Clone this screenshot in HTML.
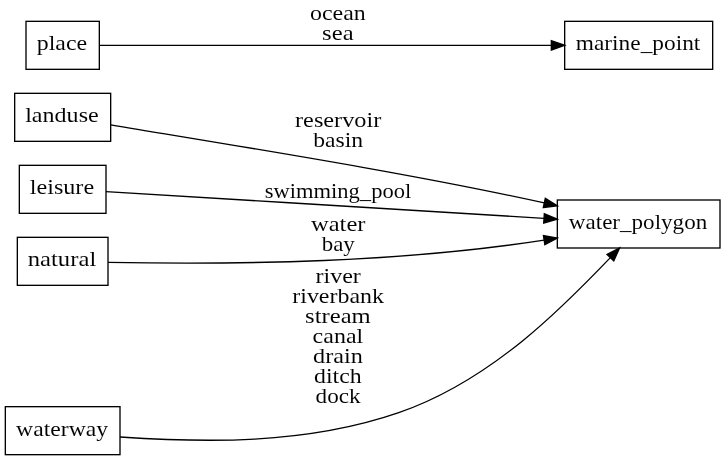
<!DOCTYPE html>
<html><head><meta charset="utf-8"><title>diagram</title><style>html,body{margin:0;padding:0;background:#fff;width:725px;height:460px;overflow:hidden}svg{display:block;will-change:transform}text{font-family:"Liberation Serif", serif;font-size:20.50px;fill:#000;stroke:#fff;stroke-width:0.05px;text-anchor:start}</style></head><body>
<svg width="725" height="460" viewBox="0 0 725 460">
<rect x="0" y="0" width="725" height="460" fill="#fff"/>
<g fill="none" stroke="#000" stroke-width="1.333">
<rect x="26" y="21.33" width="73.33" height="48"/>
<rect x="564.67" y="21.33" width="148" height="48"/>
<rect x="14.67" y="93.33" width="96" height="48"/>
<rect x="557.33" y="200" width="162.67" height="48"/>
<rect x="19.33" y="165.33" width="86.67" height="48"/>
<rect x="17.33" y="237.33" width="90.67" height="48"/>
<rect x="5.33" y="406.67" width="114.67" height="48"/>
</g>
<g fill="none" stroke="#000" stroke-width="1.333">
<path d="M99.33,45.33 L551.34,45.33"/>
<path d="M110.67,124.8 C260.24,149.79 411.95,173.7 544.31,202.93"/>
<path d="M106,191.67 C247.88,200.27 413.98,210.24 544.03,218.37"/>
<path d="M108,262.4 C246.59,264.76 400.21,262.33 544.16,240.13"/>
<path d="M120,437.04 C201.81,442.43 304.25,445.29 398.75,412.67 C492.84,380.19 565.76,304.15 610.37,257.62"/>
</g>
<g fill="#000" stroke="#000" stroke-width="1.333">
<polygon points="551.34,50 564.67,45.33 551.34,40.66"/>
<polygon points="543.31,207.48 557.33,205.8 545.32,198.37"/>
<polygon points="543.73,223.03 557.33,219.2 544.32,213.71"/>
<polygon points="544.87,244.74 557.33,238.1 543.44,235.52"/>
<polygon points="613.74,260.85 619.6,248 607.01,254.39"/>
</g>
<text x="310.04" y="20.27" textLength="55.71" lengthAdjust="spacingAndGlyphs">ocean</text>
<text x="322.13" y="40.27" textLength="31.53" lengthAdjust="spacingAndGlyphs">sea</text>
<text x="295.06" y="126.5" textLength="86.22" lengthAdjust="spacingAndGlyphs">reservoir</text>
<text x="313.18" y="146.5" textLength="49.95" lengthAdjust="spacingAndGlyphs">basin</text>
<text x="264.8" y="197.8" textLength="146.37" lengthAdjust="spacingAndGlyphs">swimming_pool</text>
<text x="310.96" y="230.5" textLength="54.52" lengthAdjust="spacingAndGlyphs">water</text>
<text x="321.7" y="250.5" textLength="33.12" lengthAdjust="spacingAndGlyphs">bay</text>
<text x="315.46" y="282.6" textLength="45.43" lengthAdjust="spacingAndGlyphs">river</text>
<text x="292.25" y="302.6" textLength="91.75" lengthAdjust="spacingAndGlyphs">riverbank</text>
<text x="305.07" y="322.6" textLength="65.72" lengthAdjust="spacingAndGlyphs">stream</text>
<text x="312.63" y="342.6" textLength="50.61" lengthAdjust="spacingAndGlyphs">canal</text>
<text x="313.03" y="362.6" textLength="49.79" lengthAdjust="spacingAndGlyphs">drain</text>
<text x="314.09" y="382.6" textLength="47.62" lengthAdjust="spacingAndGlyphs">ditch</text>
<text x="315.59" y="402.6" textLength="44.99" lengthAdjust="spacingAndGlyphs">dock</text>
<text x="36.84" y="50.26" textLength="50.29" lengthAdjust="spacingAndGlyphs">place</text>
<text x="575.75" y="50.26" textLength="124.61" lengthAdjust="spacingAndGlyphs">marine_point</text>
<text x="25.17" y="122.26" textLength="73.57" lengthAdjust="spacingAndGlyphs">landuse</text>
<text x="568.83" y="228.93" textLength="138.38" lengthAdjust="spacingAndGlyphs">water_polygon</text>
<text x="29.74" y="194.26" textLength="64.41" lengthAdjust="spacingAndGlyphs">leisure</text>
<text x="27.72" y="266.26" textLength="68.53" lengthAdjust="spacingAndGlyphs">natural</text>
<text x="16.13" y="435.6" textLength="91.99" lengthAdjust="spacingAndGlyphs">waterway</text>
</svg></body></html>
